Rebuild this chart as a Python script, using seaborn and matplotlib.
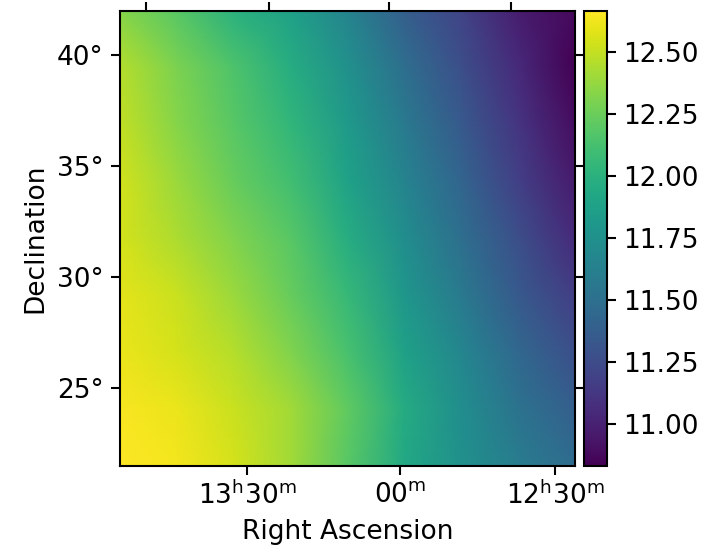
import numpy as np
import pandas as pd
import matplotlib
matplotlib.use("Agg")
import matplotlib.pyplot as plt
import seaborn as sns

W, H = 708, 553
AX_L, AX_R, AX_T, AX_B = 119.5, 575.0, 11.0, 466.0
CB_L, CB_R = 584.0, 607.0

values_r1 = [12.33, 12.19, 12.00, 11.88, 11.66, 11.38, 11.20, 10.98, 10.87]
values_r2 = [12.46, 12.30, 12.15, 11.97, 11.75, 11.49, 11.27, 11.05, 10.83]
values_r3 = [12.50, 12.33, 12.19, 12.04, 11.82, 11.58, 11.34, 11.11, 10.89]
values_r4 = [12.54, 12.39, 12.24, 12.11, 11.89, 11.66, 11.42, 11.18, 10.96]
values_r5 = [12.55, 12.44, 12.32, 12.19, 11.97, 11.73, 11.49, 11.27, 11.05]
values_r6 = [12.59, 12.52, 12.39, 12.24, 12.06, 11.80, 11.58, 11.34, 11.16]
values_r7 = [12.61, 12.55, 12.46, 12.32, 12.13, 11.88, 11.67, 11.44, 11.27]
values_r8 = [12.65, 12.61, 12.52, 12.41, 12.22, 11.95, 11.73, 11.53, 11.38]
values_r9 = [12.665, 12.63, 12.55, 12.41, 12.19, 11.93, 11.75, 11.60, 11.47]
rows = [values_r1, values_r2, values_r3, values_r4, values_r5,
        values_r6, values_r7, values_r8, values_r9]

x_tick_labels = [r"13$^{\mathrm{h}}$30$^{\mathrm{m}}$", r"00$^{\mathrm{m}}$",
                 r"12$^{\mathrm{h}}$30$^{\mathrm{m}}$"]
y_tick_labels = ["40°", "35°", "30°", "25°"]
cbar_ticks = [11.00, 11.25, 11.50, 11.75, 12.00, 12.25, 12.50]
VMIN, VMAX = 10.83, 12.665

x_tick_px = [247, 400, 555]
top_tick_px = [146, 269, 389, 511]
y_tick_px = [55, 166, 277, 388]

FS = 19
matplotlib.rcParams.update({"font.family": "DejaVu Sans", "font.size": FS,
                            "axes.linewidth": 1.5})

fig = plt.figure(figsize=(W / 100, H / 100), dpi=100)
ax = fig.add_axes([AX_L / W, 1 - AX_B / H, (AX_R - AX_L) / W, (AX_B - AX_T) / H])
cax = fig.add_axes([CB_L / W, 1 - AX_B / H, (CB_R - CB_L) / W, (AX_B - AX_T) / H])

df = pd.DataFrame(rows)
sns.heatmap(df, ax=ax, cbar_ax=cax, cmap="viridis", vmin=VMIN, vmax=VMAX,
            shading="gouraud", xticklabels=False, yticklabels=False)

ny, nx = df.shape
ax.set_xlim(0, nx - 1)
ax.set_ylim(ny - 1, 0)

def px2x(p):
    return (p - AX_L) / (AX_R - AX_L) * (nx - 1)

def px2y(p):
    return (p - AX_T) / (AX_B - AX_T) * (ny - 1)

for s in ax.spines.values():
    s.set_visible(True)
    s.set_linewidth(1.5)
    s.set_zorder(5)

ax.set_xticks([px2x(p) for p in x_tick_px], x_tick_labels, fontsize=FS, rotation=0)
ax.set_yticks([px2y(p) for p in y_tick_px], y_tick_labels, fontsize=FS, rotation=0)
ax.tick_params(axis="both", length=6.5, width=1.5, pad=5, left=True, bottom=True,
               right=True)
ax.set_xlabel("Right Ascension", fontsize=FS, labelpad=6)
ax.set_ylabel("Declination", fontsize=FS, labelpad=6)

sec = ax.secondary_xaxis("top")
sec.set_xticks([px2x(p) for p in top_tick_px], ["", "", "", ""])
sec.tick_params(length=6.5, width=1.5)
sec.spines["top"].set_visible(False)

cb = ax.collections[0].colorbar
cb.set_ticks(cbar_ticks)
cb.set_ticklabels([f"{t:.2f}" for t in cbar_ticks])
cax.tick_params(length=6.5, width=1.5, labelsize=FS, pad=5)
cb.outline.set_visible(True)
cb.outline.set_linewidth(1.5)

fig.savefig("out.png", dpi=100)
